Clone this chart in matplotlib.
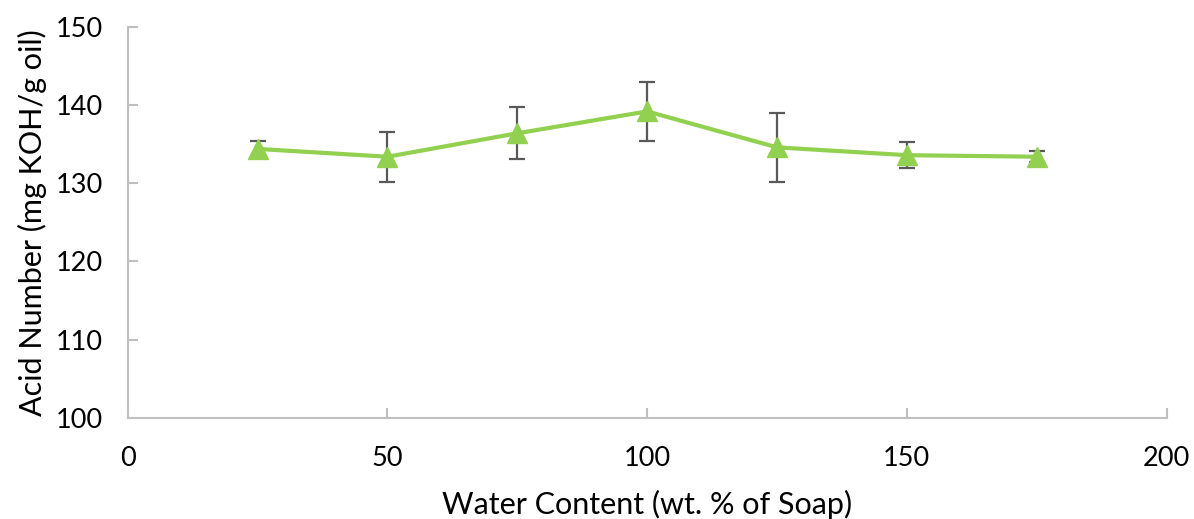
import matplotlib.pyplot as plt

# water content (wt. % of soap) and acid number readings
water_content = [25, 50, 75, 100, 125, 150, 175]
acid_number = [134.4, 133.4, 136.4, 139.2, 134.6, 133.6, 133.4]
acid_err = [1.0, 3.2, 3.3, 3.8, 4.4, 1.7, 0.7]

x_ticks = [0, 50, 100, 150, 200]
y_ticks = [100, 110, 120, 130, 140, 150]

plt.rcParams['font.family'] = ['Lato', 'DejaVu Sans']

fig = plt.figure(figsize=(11.94, 5.19), dpi=100)
ax = fig.add_axes([0.107, 0.195, 0.870, 0.753])

ax.errorbar(water_content, acid_number, yerr=acid_err, fmt='none',
            ecolor='#595959', elinewidth=1.6, capsize=6, capthick=1.6, zorder=2)
ax.plot(water_content, acid_number, color='#92D050', linewidth=3,
        marker='^', markersize=14, zorder=3)

ax.set_xlim(0, 200)
ax.set_ylim(100, 150)
ax.set_xticks(x_ticks)
ax.set_yticks(y_ticks)

for side in ['top', 'right']:
    ax.spines[side].set_visible(False)
for side in ['left', 'bottom']:
    ax.spines[side].set_color('#BFBFBF')
    ax.spines[side].set_linewidth(1.5)

ax.tick_params(axis='both', direction='in', length=7, width=1.5, color='#BFBFBF',
               labelsize=19.5, labelcolor='black')
ax.tick_params(axis='x', pad=20)
ax.tick_params(axis='y', pad=18)

ax.set_xlabel('Water Content (wt. % of Soap)', fontsize=22, labelpad=14)
ax.set_ylabel('Acid Number (mg KOH/g oil)', fontsize=22, labelpad=6)

fig.savefig('out.png', dpi=100)
